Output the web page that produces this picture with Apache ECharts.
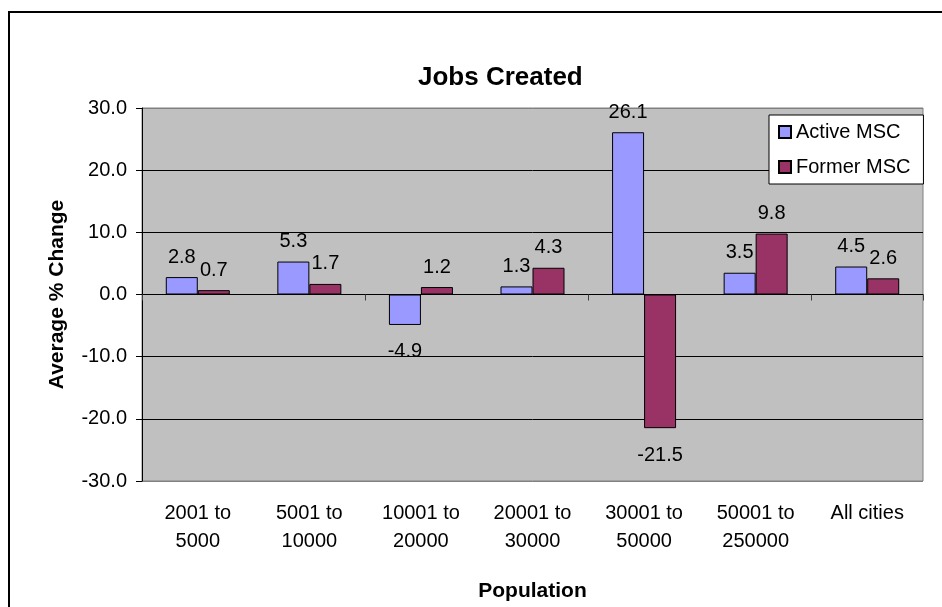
<!DOCTYPE html>
<html>
<head>
<meta charset="utf-8">
<script src="https://cdn.jsdelivr.net/npm/echarts@6/dist/echarts.min.js"></script>
<style>
  html, body { margin: 0; padding: 0; background: #ffffff; }
  #chart { width: 942px; height: 607px; }
</style>
</head>
<body>
<div id="chart"></div>
<script>
// Population bands and average % change in jobs created
const categories = ['2001 to 5000', '5001 to 10000', '10001 to 20000', '20001 to 30000', '30001 to 50000', '50001 to 250000', 'All cities'];
const activeMSC = [2.8, 5.3, -4.9, 1.3, 26.1, 3.5, 4.5];
const formerMSC = [0.7, 1.7, 1.2, 4.3, -21.5, 9.8, 2.6];
const seriesNames = ['Active MSC', 'Former MSC'];
const yTicks = [-30, -20, -10, 0, 10, 20, 30];

const FONT = "'Liberation Sans', Arial, sans-serif";

// Labels sit above positive bars and below negative ones
function barData(values) {
  return values.map(v => ({
    value: v,
    label: v < 0 ? { position: 'bottom', distance: 17 } : { position: 'top', distance: 10 }
  }));
}

const chart = echarts.init(document.getElementById('chart'), null, { renderer: 'canvas' });

const labelStyle = {
  show: true,
  fontFamily: FONT,
  fontSize: 20,
  color: '#000',
  formatter: p => p.value.toFixed(1)
};

chart.setOption({
  animation: false,
  backgroundColor: '#ffffff',
  graphic: [{
    type: 'rect',
    z: -10,
    shape: { x: 9, y: 12, width: 990, height: 700 },
    style: { fill: 'none', stroke: '#000', lineWidth: 2 }
  }],
  title: {
    text: 'Jobs Created',
    left: 418,
    top: 65,
    padding: 0,
    textStyle: { fontFamily: FONT, fontSize: 26, fontWeight: 'bold', color: '#000' }
  },
  legend: {
    orient: 'vertical',
    left: 769,
    top: 115,
    padding: [7, 13, 7, 9],
    itemGap: 15,
    itemWidth: 12,
    itemHeight: 12,
    icon: 'rect',
    backgroundColor: '#ffffff',
    borderColor: '#000',
    borderWidth: 1,
    borderRadius: 0,
    textStyle: { fontFamily: FONT, fontSize: 20, color: '#000' },
    data: seriesNames
  },
  grid: {
    left: 142,
    right: 19,
    top: 108,
    bottom: 126,
    show: true,
    backgroundColor: '#C0C0C0',
    borderColor: '#808080',
    borderWidth: 1
  },
  xAxis: [{
    type: 'category',
    data: categories,
    position: 'bottom',
    axisLine: { show: false, onZero: false },
    axisTick: { show: false },
    axisLabel: {
      fontFamily: FONT,
      fontSize: 20,
      lineHeight: 28,
      color: '#000',
      margin: 18,
      interval: 0,
      formatter: s => s.replace(' to ', ' to\n')
    },
    name: 'Population',
    nameLocation: 'middle',
    nameGap: 100,
    nameTextStyle: { fontFamily: FONT, fontSize: 21, fontWeight: 'bold', color: '#000' },
    splitLine: { show: false }
  }, {
    type: 'category',
    data: categories,
    position: 'top',
    axisLine: { show: true, onZero: true, lineStyle: { color: '#000', width: 1 } },
    axisTick: { show: true, inside: true, length: 6, lineStyle: { color: '#404040' } },
    axisLabel: { show: false },
    splitLine: { show: false }
  }],
  yAxis: {
    type: 'value',
    min: yTicks[0],
    max: yTicks[yTicks.length - 1],
    interval: 10,
    axisLine: { show: true, lineStyle: { color: '#000', width: 1 } },
    axisTick: { show: true, length: 6, lineStyle: { color: '#000' } },
    axisLabel: {
      fontFamily: FONT,
      fontSize: 20,
      color: '#000',
      margin: 15,
      formatter: v => v.toFixed(1)
    },
    splitLine: {
      show: true,
      lineStyle: { color: ['#808080', '#000', '#000', '#000', '#000', '#000', '#808080'], width: 1 }
    },
    name: 'Average % Change',
    nameLocation: 'middle',
    nameGap: 74,
    nameTextStyle: { fontFamily: FONT, fontSize: 21, fontWeight: 'bold', color: '#000' }
  },
  series: [{
    name: seriesNames[0],
    type: 'bar',
    xAxisIndex: 0,
    data: barData(activeMSC),
    barWidth: 32,
    barGap: '0%',
    itemStyle: { color: '#9999FF', borderColor: '#000', borderWidth: 1 },
    label: labelStyle
  }, {
    name: seriesNames[1],
    type: 'bar',
    xAxisIndex: 0,
    data: barData(formerMSC),
    barWidth: 32,
    barGap: '0%',
    itemStyle: { color: '#993366', borderColor: '#000', borderWidth: 1 },
    label: labelStyle
  }]
});
</script>
</body>
</html>
